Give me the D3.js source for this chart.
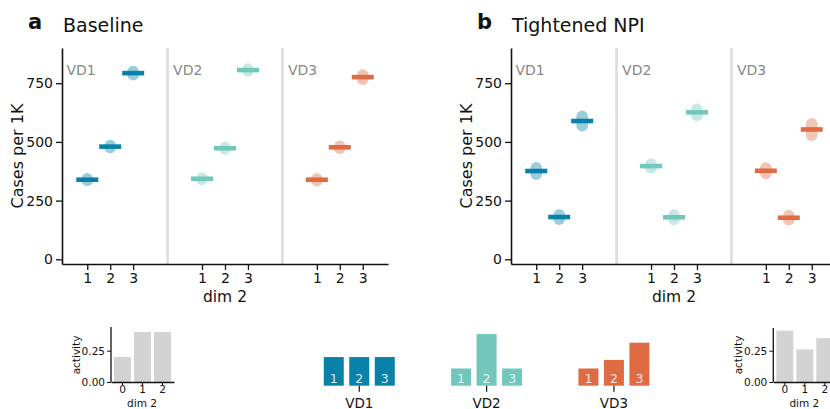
<!DOCTYPE html>
<html>
<head>
<meta charset="utf-8">
<title>Baseline vs Tightened NPI</title>
<style>
  body { margin: 0; background: #fff; }
  text { font-family: "DejaVu Sans", sans-serif; fill: #111; }
  .axis path, .axis line { stroke: #111; }
</style>
</head>
<body>
<svg width="830" height="409"></svg>
<script src="https://d3js.org/d3.v7.min.js"></script>
<script>
// ---- data ----
const categories = ['VD1', 'VD2', 'VD3'];
const dims = [1, 2, 3];
const colors = ['#0a81a8', '#72c7bc', '#de6b44'];
const yTicks = [0, 250, 500, 750];

// panel a: Baseline (mean, min, max of samples)
const baseMean = [[339, 480, 793], [343, 473, 806], [339, 477, 776]];
const baseLo   = [[336, 476, 786], [340, 470, 802], [335, 473, 767]];
const baseHi   = [[343, 484, 800], [346, 476, 810], [343, 481, 785]];

// panel b: Tightened NPI
const npiMean = [[376, 180, 589], [397, 179, 626], [377, 177, 553]];
const npiLo   = [[363, 171, 569], [389, 170, 613], [366, 169, 529]];
const npiHi   = [[390, 189, 609], [406, 188, 640], [389, 186, 577]];

// inset activity bars
const insetDims = [0, 1, 2];
const activityA = [0.20, 0.40, 0.40];
const activityB = [0.41, 0.26, 0.35];
const activityTicks = [0, 0.25];

// VD profiles
const profiles = [[0.333, 0.333, 0.333], [0.2, 0.6, 0.2], [0.2, 0.3, 0.5]];

const svg = d3.select('svg');

// ---- main panels ----
function drawPanel(dx, letter, title, mean, lo, hi) {
  const g = svg.append('g').attr('transform', `translate(${dx},0)`);
  const x = d3.scaleLinear().domain([-0.1, 14.1]).range([62, 388]);
  const y = d3.scaleLinear().domain([-20, 900]).range([264, 48]);
  const pos = (gi, k) => gi * 5 + k;

  g.append('text').attr('x', 28).attr('y', 29)
    .style('font-size', '21px').style('font-weight', 'bold').text(letter);
  g.append('text').attr('x', 63).attr('y', 32)
    .style('font-size', '19px').text(title);

  // dividers
  [4.5, 9.5].forEach(v => {
    g.append('line').attr('x1', x(v)).attr('x2', x(v))
      .attr('y1', 48).attr('y2', 264)
      .attr('stroke', '#dcdcdc').attr('stroke-width', 2.5);
  });

  categories.forEach((c, gi) => {
    const lx = gi === 0 ? x(-0.1) + 4.5 : x(gi * 5 - 0.5) + 5.5;
    g.append('text').attr('x', lx).attr('y', 75)
      .style('font-size', '14px').style('fill', '#888').text(c);
  });

  const r = 5.8;
  categories.forEach((c, gi) => {
    dims.forEach((k, i) => {
      const cx = x(pos(gi, k));
      g.append('rect')
        .attr('x', cx - r).attr('width', 2 * r)
        .attr('y', y(hi[gi][i]) - r)
        .attr('height', y(lo[gi][i]) - y(hi[gi][i]) + 2 * r)
        .attr('rx', r).attr('ry', r)
        .attr('fill', colors[gi]).attr('fill-opacity', 0.4);
      g.append('rect')
        .attr('x', cx - 11).attr('width', 22)
        .attr('y', y(mean[gi][i]) - 2.3).attr('height', 4.6)
        .attr('fill', colors[gi]);
    });
  });

  const ya = g.append('g').attr('class', 'axis')
    .attr('transform', 'translate(62,0)')
    .call(d3.axisLeft(y).tickValues(yTicks).tickSize(6).tickPadding(3).tickSizeOuter(0));
  const tickPos = [];
  categories.forEach((c, gi) => dims.forEach(k => tickPos.push(pos(gi, k))));
  const xa = g.append('g').attr('class', 'axis')
    .attr('transform', 'translate(0,264)')
    .call(d3.axisBottom(x).tickValues(tickPos)
      .tickFormat(d => ((d - 1) % 5) + 1).tickSize(6).tickPadding(3).tickSizeOuter(0));
  [ya, xa].forEach(a => {
    a.selectAll('text').style('font-size', '14px').attr('fill', '#111');
    a.select('.domain').attr('stroke-width', 1.6);
    a.selectAll('.tick line').attr('stroke-width', 1.3);
  });

  g.append('text').attr('x', 225).attr('y', 302)
    .attr('text-anchor', 'middle').style('font-size', '15.5px').text('dim 2');
  g.append('text').attr('transform', 'translate(23,156) rotate(-90)')
    .attr('text-anchor', 'middle').style('font-size', '16px').text('Cases per 1K');
}

drawPanel(0, 'a', 'Baseline', baseMean, baseLo, baseHi);
drawPanel(449, 'b', 'Tightened NPI', npiMean, npiLo, npiHi);

// ---- activity insets ----
function drawInset(x0, top, values) {
  const g = svg.append('g');
  const x = d3.scaleBand().domain(insetDims).range([x0, x0 + 63])
    .paddingInner(0.15).paddingOuter(0.15);
  const y = d3.scaleLinear().domain([0, 0.44]).range([382, 382 - 125.3 * 0.44]);
  g.selectAll('rect').data(values).enter().append('rect')
    .attr('x', (d, i) => x(insetDims[i]))
    .attr('width', x.bandwidth())
    .attr('y', d => y(d))
    .attr('height', d => y(0) - y(d))
    .attr('fill', '#d3d3d3');
  const ya = g.append('g').attr('class', 'axis').attr('transform', `translate(${x0},0)`)
    .call(d3.axisLeft(y).tickValues(activityTicks).tickFormat(d3.format('.2f'))
      .tickSize(4).tickPadding(2).tickSizeOuter(0));
  ya.select('.domain').attr('d', `M0,${top}V382`);
  const xa = g.append('g').attr('class', 'axis').attr('transform', 'translate(0,382)')
    .call(d3.axisBottom(x).tickSize(3).tickPadding(1).tickSizeOuter(0));
  [ya, xa].forEach(a => {
    a.selectAll('text').style('font-size', '10.5px').attr('fill', '#111');
    a.select('.domain').attr('stroke-width', 1.3);
  });
  g.append('text').attr('x', x0 + 31).attr('y', 407)
    .attr('text-anchor', 'middle').style('font-size', '10.5px').text('dim 2');
  g.append('text').attr('transform', `translate(${x0 - 31},355) rotate(-90)`)
    .attr('text-anchor', 'middle').style('font-size', '10.5px').text('activity');
}
drawInset(111, 327, activityA);
drawInset(773.3, 328, activityB);

// ---- VD profile bars ----
const gx = d3.scaleBand().domain(categories).range([295.6, 677.6]);
const py = d3.scaleLinear().domain([0, 1]).range([385.7, 299.7]);
const prof = svg.append('g');
categories.forEach((c, gi) => {
  const cx = gx(c) + gx.bandwidth() / 2;
  const ix = d3.scaleBand().domain(dims).range([cx - 35.5, cx + 35.5]).paddingInner(0.216);
  dims.forEach((k, i) => {
    const v = profiles[gi][i];
    prof.append('rect')
      .attr('x', ix(k)).attr('width', ix.bandwidth())
      .attr('y', py(v)).attr('height', py(0) - py(v))
      .attr('fill', colors[gi]);
    prof.append('text')
      .attr('x', ix(k) + ix.bandwidth() / 2).attr('y', 382.5)
      .attr('text-anchor', 'middle').style('font-size', '12.5px')
      .style('fill', '#fff').style('fill-opacity', 0.85).text(k);
  });
  prof.append('line').attr('x1', cx).attr('x2', cx)
    .attr('y1', 385.7).attr('y2', 391.7).attr('stroke', '#111').attr('stroke-width', 1.2);
  prof.append('text').attr('x', cx).attr('y', 407.5)
    .attr('text-anchor', 'middle').style('font-size', '13.5px').text(c);
});
</script>
</body>
</html>
